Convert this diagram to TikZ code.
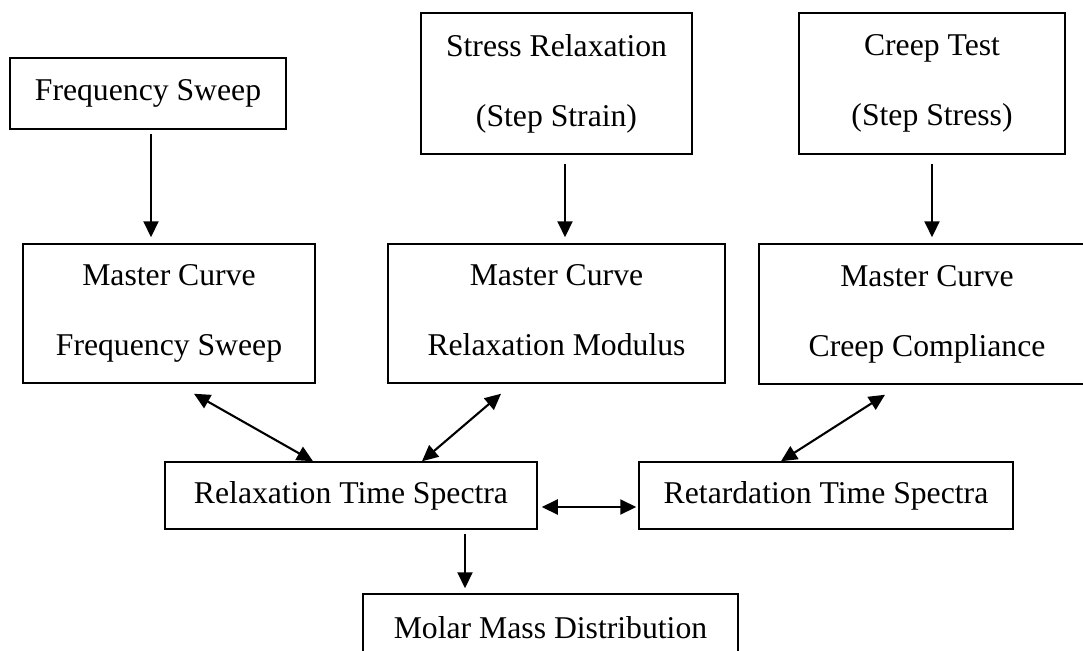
\documentclass[tikz,border=0pt]{standalone}
\usepackage{fontspec}
\setmainfont{Liberation Serif}
\usepackage{tikz}
\usetikzlibrary{arrows.meta,positioning,calc}

\begin{document}
\begin{tikzpicture}[
  x=1pt, y=-1pt,
  >={Triangle[length=16pt,width=15pt]},
  testbox/.style={draw,line width=1.5pt,inner sep=0pt,align=center,
    font=\fontsize{31.7}{70}\selectfont},
  flow/.style={->,line width=2.1pt},
  link/.style={<->,line width=2.1pt}
]
  \clip (0,0) rectangle (1083,650);

  % measurements
  \node[testbox,minimum width=276pt,minimum height=71pt] (fsweep) at (148,93.5) {Frequency Sweep};
  \node[testbox,minimum width=271pt,minimum height=141pt] (relax) at (556.5,83.5) {Stress Relaxation\\(Step Strain)};
  \node[testbox,minimum width=266pt,minimum height=141pt] (creep) at (932,83.5) {Creep Test\\(Step Stress)};

  % master curves
  \node[testbox,minimum width=292pt,minimum height=139pt] (mfs) at (169,313.5) {Master Curve\\Frequency Sweep};
  \node[testbox,minimum width=337pt,minimum height=139pt] (mrm) at (556.5,313.5) {Master Curve\\Relaxation Modulus\vphantom{p}};
  \node[testbox,minimum width=336pt,minimum height=140pt] (mcc) at (927,314) {Master Curve\\Creep Compliance};

  % spectra
  \node[testbox,minimum width=372pt,minimum height=67pt] (rts) at (351,495.5) {Relaxation Time Spectra};
  \node[testbox,minimum width=374pt,minimum height=67pt] (ret) at (826,495.5) {Retardation Time Spectra};
  \node[testbox,minimum width=375pt,minimum height=68pt] (mmd) at (550.5,628) {Molar Mass Distribution};

  \draw[flow,shorten <=4pt,shorten >=6pt] ([xshift=3pt]fsweep.south) -- ([xshift=3pt]fsweep.south |- mfs.north);
  \draw[flow,shorten <=9pt,shorten >=6pt] ([xshift=8.5pt]relax.south) -- ([xshift=8.5pt]relax.south |- mrm.north);
  \draw[flow,shorten <=9pt,shorten >=6pt] (creep.south) -- (creep.south |- mcc.north);

  \draw[link] ([xshift=25pt,yshift=-10pt]mfs.south) -- ([xshift=-38pt]rts.north);
  \draw[link] ([xshift=-55.5pt,yshift=-10pt]mrm.south) -- ([xshift=71pt]rts.north);
  \draw[link] ([xshift=-42pt,yshift=-10pt]mcc.south) -- ([xshift=-45pt]ret.north);
  \draw[link,shorten <=4pt,shorten >=2pt] ([yshift=-11.5pt]rts.east) -- ([yshift=-11.5pt]rts.east -| ret.west);

  \draw[flow,shorten <=4pt,shorten >=5pt] ([xshift=114pt]rts.south) -- ([xshift=114pt]rts.south |- mmd.north);
\end{tikzpicture}
\end{document}
